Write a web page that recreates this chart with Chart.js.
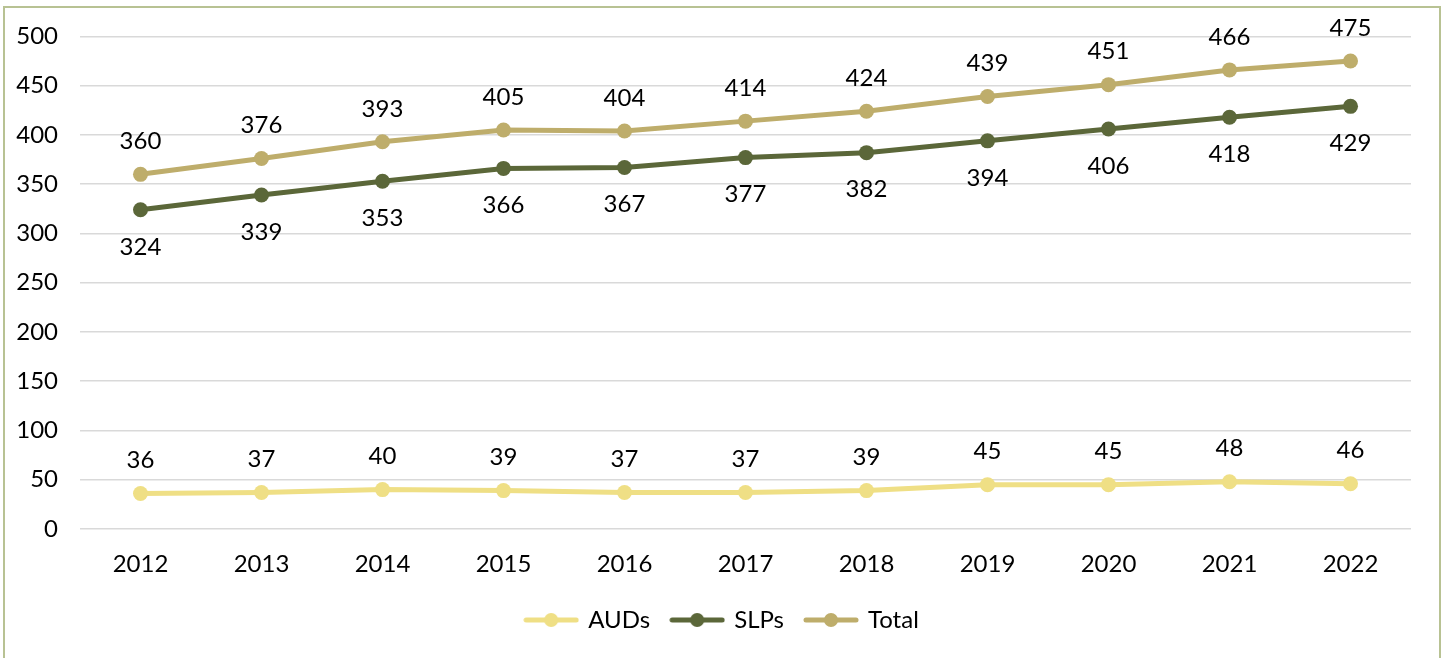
<!DOCTYPE html>
<html>
<head>
<meta charset="utf-8">
<script src="https://cdn.jsdelivr.net/npm/chart.js@4.4.0/dist/chart.umd.min.js"></script>
<style>
body { margin: 0; background: #fff; overflow: hidden; }
#frame { position: absolute; left: 3px; top: 6px; width: 1434px; height: 700px; border: 2px solid #b8c293; }
#myChart { position: absolute; left: 0; top: 0; }
</style>
</head>
<body>
<div id="frame"></div>
<canvas id="myChart" width="1445" height="658"></canvas>
<script>
let years = ['2012', '2013', '2014', '2015', '2016', '2017', '2018', '2019', '2020', '2021', '2022'];
let auds = [36, 37, 40, 39, 37, 37, 39, 45, 45, 48, 46];
let slps = [324, 339, 353, 366, 367, 377, 382, 394, 406, 418, 429];
let total = [360, 376, 393, 405, 404, 414, 424, 439, 451, 466, 475];
let labelOffsets = [-33, 37, -33]; // AUDs above, SLPs below, Total above

let fontName = 'Lato, "Open Sans", sans-serif';
let fontSize = 24;

// little line+dot icon for the legend
function legendIcon(color) {
    let c = document.createElement('canvas');
    c.width = 56;
    c.height = 16;
    let g = c.getContext('2d');
    g.strokeStyle = color;
    g.lineWidth = 5;
    g.lineCap = 'round';
    g.beginPath();
    g.moveTo(3, 8);
    g.lineTo(53, 8);
    g.stroke();
    g.fillStyle = color;
    g.beginPath();
    g.arc(28, 8, 7, 0, Math.PI * 2);
    g.fill();
    return c;
}

let valueLabels = {
    id: 'valueLabels',
    afterDatasetsDraw(chart) {
        let c = chart.ctx;
        c.save();
        c.font = fontSize + 'px ' + fontName;
        c.fillStyle = '#000';
        c.textAlign = 'center';
        c.textBaseline = 'middle';
        chart.data.datasets.forEach((ds, i) => {
            chart.getDatasetMeta(i).data.forEach((pt, j) => {
                c.fillText(ds.data[j], pt.x, pt.y + labelOffsets[i]);
            });
        });
        c.restore();
    }
};

// center the legend on the whole page, not on the padded box
let legendShift = {
    id: 'legendShift',
    afterLayout(chart) {
        chart.legend.left += 17;
        chart.legend.right += 17;
    }
};

let colors = ['#efdf85', '#5b6739', '#bead6b'];
let icons = colors.map(legendIcon);

let ctx = document.getElementById('myChart').getContext('2d');
let myChart = new Chart(ctx, {
    type: 'line',
    data: {
        labels: years,
        datasets: [
            { label: 'AUDs', data: auds, borderColor: colors[0], backgroundColor: colors[0] },
            { label: 'SLPs', data: slps, borderColor: colors[1], backgroundColor: colors[1] },
            { label: 'Total', data: total, borderColor: colors[2], backgroundColor: colors[2] }
        ]
    },
    options: {
        responsive: false,
        animation: false,
        datasets: {
            line: { borderWidth: 5, pointRadius: 7.5, pointHoverRadius: 7.5, pointBorderWidth: 0, tension: 0, fill: false }
        },
        layout: { padding: { top: 36, right: 34, bottom: 16, left: 0 } },
        scales: {
            x: {
                offset: true,
                grid: { display: false, drawTicks: false },
                border: { display: false },
                ticks: { color: '#000', font: { family: fontName, size: fontSize }, padding: 21 },
                afterFit(scale) { scale.height = 57; }
            },
            y: {
                min: 0,
                max: 500,
                grid: { color: '#d9d9d9', lineWidth: 1.5, drawTicks: false },
                border: { display: false },
                ticks: { stepSize: 50, color: '#000', font: { family: fontName, size: fontSize }, padding: 22 },
                afterFit(scale) { scale.width = 80; }
            }
        },
        plugins: {
            tooltip: { enabled: false },
            legend: {
                position: 'bottom',
                labels: {
                    usePointStyle: true,
                    pointStyleWidth: 50,
                    padding: 22,
                    color: '#000',
                    font: { family: fontName, size: fontSize },
                    generateLabels(chart) {
                        let items = Chart.defaults.plugins.legend.labels.generateLabels(chart);
                        items.forEach((it, i) => { it.pointStyle = icons[i]; });
                        return items;
                    }
                }
            }
        }
    },
    plugins: [valueLabels, legendShift]
});
</script>
</body>
</html>
